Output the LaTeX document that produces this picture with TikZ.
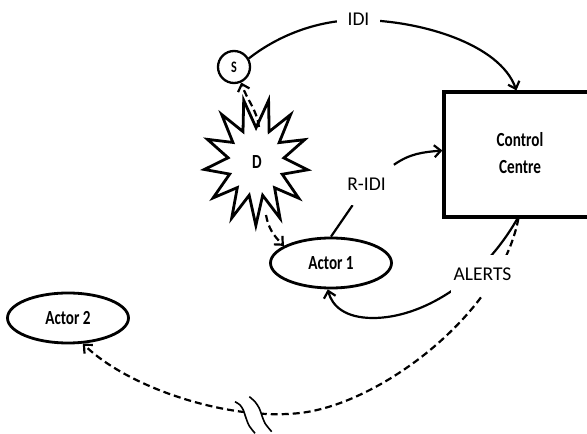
\documentclass[tikz,border=0pt]{standalone}
\usepackage{fontspec}
\setmainfont{Carlito}
\newfontfamily\nodefont{Carlito}[FakeStretch=0.76]
\usetikzlibrary{arrows.meta,shapes.geometric,backgrounds,calc}
\begin{document}
\begin{tikzpicture}[x=1pt,y=1pt,
  conn/.style={line width=2.2pt, -{Straight Barb[length=6.5pt,width=12pt]}},
  plainline/.style={line width=2.2pt},
  dashline/.style={dash pattern=on 7pt off 4pt},
  lbl/.style={fill=white, font=\fontsize{19.5}{22}\selectfont, text height=12pt, text depth=0pt, inner ysep=14pt, inner xsep=8pt},
  actor/.style={ellipse, draw, line width=2.8pt, fill=white, minimum width=121pt, minimum height=50pt, inner sep=0pt, font=\nodefont\bfseries\fontsize{20}{24}\selectfont},
  boxtext/.style={align=center, inner sep=0pt, font=\nodefont\bfseries\fontsize{20}{27}\selectfont},
  wave/.style={line width=1.6pt},
]
\useasboundingbox (0,0) rectangle (587,434);
\clip (0,0) rectangle (587,434);

% nodes
\node[draw, line width=3.2pt, fill=white, minimum width=220pt, minimum height=125pt, inner sep=0pt] (C) at (554,279.5) {};
\node[boxtext] (Ctext) at (520,280.5) {Control\\Centre};
\node[circle, draw, line width=2.3pt, fill=white, minimum size=32pt, inner sep=0pt,
      font=\nodefont\bfseries\fontsize{16}{18}\selectfont] (S) at (234,367) {S};
\begin{scope}[shift={(256,272)}, yscale=1.22]
  \node[star, star points=13, star point ratio=1.85, draw, line width=2.8pt, line join=miter, minimum size=104pt,
        inner sep=0pt, shape border rotate=-14, transform shape] (Dstar) at (0,0) {};
\end{scope}
\node[font=\nodefont\bfseries\fontsize{20}{24}\selectfont] (D) at (257,272) {D};
\coordinate (Dtop) at (259,307);
\coordinate (Dbot) at (266,219);
\node[actor] (A1) at (331,171) {Actor 1};
\node[actor] (A2) at (68,116) {Actor 2};
\node[lbl, inner xsep=11pt] (IDI) at (358.5,414) {IDI};
\node[lbl] (RIDI) at (366.5,249) {R-IDI};
\node[lbl, inner xsep=3pt] (AL) at (482.5,159) {ALERTS};

% connectors
\begin{pgfonlayer}{background}
  \draw[conn] (S.30) .. controls (280,400) and (320,414) .. (358,414) .. controls (420,414) and (500,390) .. ($(C.north west)+(74,0)$);
  \draw[plainline] (A1.north) -- (RIDI);
  \draw[conn] (RIDI.north east) to[out=35,in=185] ($(C.west)+(0,4)$);
  \draw[conn] ($(C.south west)+(75,0)$) .. controls (480,150) and (420,116) .. (373,116) .. controls (345,116) and (332,128) .. (A1.-97);
  \draw[conn, dashline] ($(C.south west)+(76,0)$) .. controls (500,120) and (380,30) .. (300,21) .. controls (230,13) and (130,45) .. (A2.-60);
\end{pgfonlayer}
\draw[conn, dashline] (Dtop) to[out=98,in=-72] (S.-65);
\draw[conn, dashline] (Dbot) to[out=-80,in=135] (A1.160);

% break mark
\fill[white] plot[smooth] coordinates {(235,32.3) (240,29) (243.3,24) (245,19) (246.7,14) (249.3,8) (255,0.7)}
   -- plot[smooth] coordinates {(271.7,2.3) (265,10.7) (261.7,19) (259.3,25.7) (255,32.3) (249.3,37.3)} -- cycle;
\draw[wave] plot[smooth] coordinates {(235,32.3) (240,29) (243.3,24) (245,19) (246.7,14) (249.3,8) (255,0.7)};
\draw[wave] plot[smooth] coordinates {(249.3,37.3) (255,32.3) (259.3,25.7) (261.7,19) (265,10.7) (271.7,2.3)};
\end{tikzpicture}
\end{document}
